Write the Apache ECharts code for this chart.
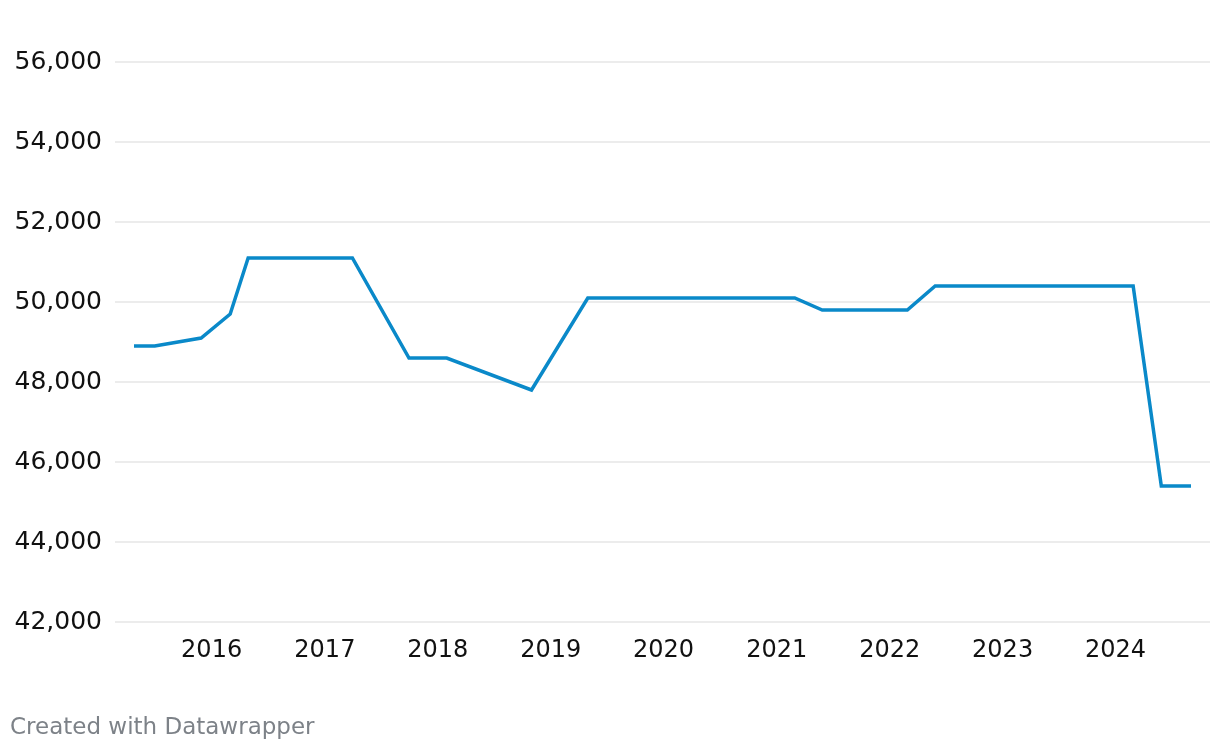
<!DOCTYPE html>
<html>
<head>
<meta charset="utf-8">
<script src="https://cdn.jsdelivr.net/npm/echarts@6/dist/echarts.min.js"></script>
<style>
  html, body { margin: 0; padding: 0; background: #ffffff; }
  #chart { width: 1220px; height: 752px; }
</style>
</head>
<body>
<div id="chart"></div>
<script>
// ---- Data ----
const dates = ['2015-04-25','2015-07-01','2015-11-28','2016-03-01','2016-04-28','2017-03-31','2017-09-30','2018-01-30','2018-10-31','2019-05-01','2021-02-28','2021-05-28','2022-02-27','2022-05-28','2024-02-27','2024-05-28','2024-09-01'];
const values = [48900,48900,49100,49700,51100,51100,48600,48600,47800,50100,50100,49800,49800,50400,50400,45400,45400];
const yearTicks = [2016,2017,2018,2019,2020,2021,2022,2023,2024];
const yTicks = [42000,44000,46000,48000,50000,52000,54000,56000];
const footer = 'Created with Datawrapper';

// ---- Build ----
const ts = d => Date.parse(d + 'T00:00:00Z');
const seriesData = dates.map((d, i) => [ts(d), values[i]]);
const first = ts(dates[0]), last = ts(dates[dates.length - 1]);
// plot area spans 115..1210; the line spans 134..1191
const gridLeft = 115, gridRight = 10, padPx = 19;
const plotW = 1220 - gridLeft - gridRight;
const dataW = plotW - 2 * padPx;
const pad = (last - first) * padPx / dataW;
const yearTs = yearTicks.map(y => Date.UTC(y, 0, 1));

const chart = echarts.init(document.getElementById('chart'), null, { renderer: 'canvas' });
const FONT = '"DejaVu Sans", Inter, sans-serif';
chart.setOption({
  animation: false,
  backgroundColor: '#ffffff',
  grid: { left: gridLeft, right: gridRight, top: 62, bottom: 130, containLabel: false },
  xAxis: {
    type: 'value',
    min: first - pad,
    max: last + pad,
    axisLine: { show: false },
    axisTick: { show: false },
    splitLine: { show: false },
    axisLabel: {
      customValues: yearTs,
      formatter: v => String(new Date(v).getUTCFullYear()),
      color: '#111111',
      fontFamily: FONT,
      fontSize: 24,
      margin: 17
    }
  },
  yAxis: {
    type: 'value',
    min: yTicks[0],
    max: yTicks[yTicks.length - 1],
    interval: 2000,
    axisLine: { show: false },
    axisTick: { show: false },
    splitLine: { show: true, lineStyle: { color: '#e6e6e6', width: 1.5 } },
    axisLabel: {
      formatter: v => v.toLocaleString('en-US'),
      color: '#111111',
      fontFamily: FONT,
      fontSize: 25,
      margin: 13,
      padding: [3, 0, 0, 0]
    }
  },
  series: [{
    type: 'line',
    data: seriesData,
    showSymbol: false,
    smooth: false,
    lineStyle: { color: '#0a89c9', width: 3.5, join: 'miter' },
    itemStyle: { color: '#0a89c9' },
    z: 5
  }],
  graphic: [{
    type: 'text',
    left: 10,
    top: 717,
    style: {
      text: footer,
      fill: '#7d8288',
      font: '23px ' + FONT
    }
  }]
});
</script>
</body>
</html>
